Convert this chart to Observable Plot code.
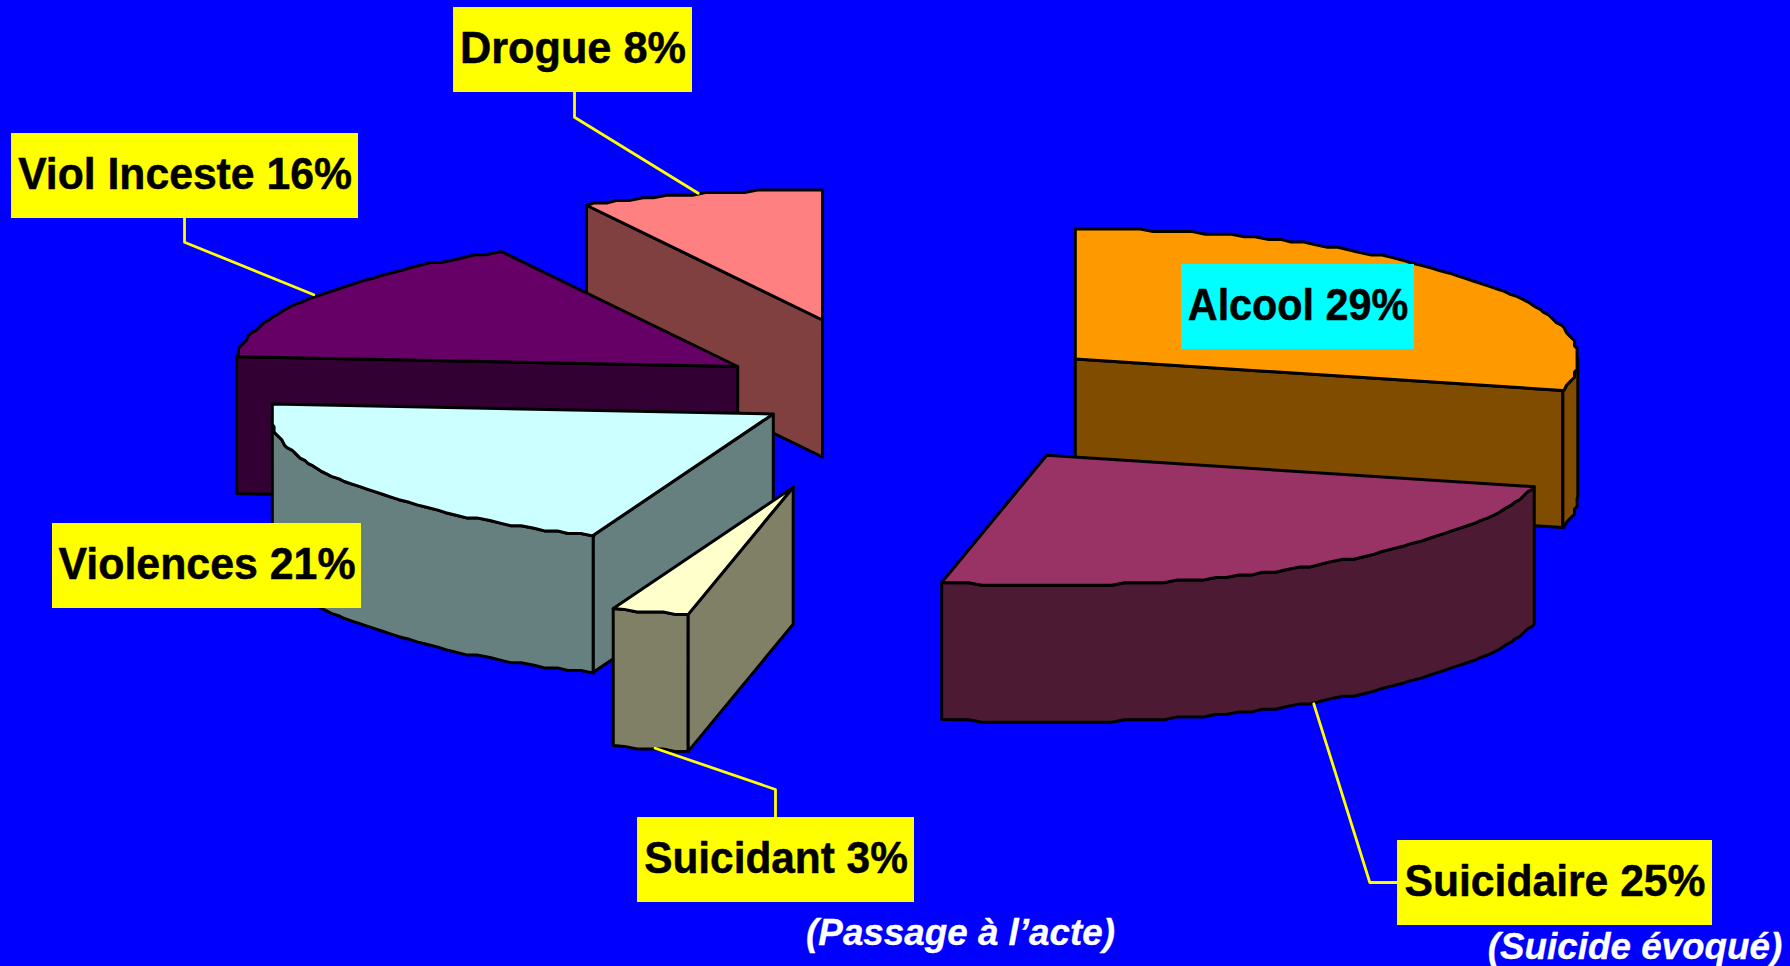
<!DOCTYPE html>
<html lang="fr">
<head>
<meta charset="utf-8">
<title>Passage à l'acte / Suicide évoqué</title>
<script src="https://cdn.jsdelivr.net/npm/d3@7"></script>
<script src="https://cdn.jsdelivr.net/npm/@observablehq/plot@0.6"></script>
<style>
  html, body { margin: 0; padding: 0; background: #0000FF; overflow: hidden; }
  svg { display: block; }
</style>
</head>
<body>
<div id="chart"></div>
<script>
// ---- data ----
const categories = ["Alcool", "Suicidaire", "Suicidant", "Violences", "Viol Inceste", "Drogue"];
const labelValues = [29, 25, 3, 21, 16, 8];          // printed percentages
const shares = [28.89, 24.46, 2.48, 20.39, 16.0, 7.78]; // measured slice sizes
const topColors = ["#FF9900", "#993366", "#FFFFCC", "#CCFFFF", "#660066", "#FF8080"];
const sideColors = ["#804D00", "#4D1A33", "#808066", "#668080", "#330033", "#804040"];

// ---- layout of the exploded slices (per slice centre) ----
const centerX = [1074.8, 1046.2, 792.7, 772.8, 737.2, 822];
const centerY = [358.5, 454.8, 486.7, 413.4, 366, 319.5];
const rx = 502.5, ry = 130, depth = 137;
const paintOrder = [5, 4, 3, 2, 0, 1];

// ---- label boxes and callouts ----
const boxLeft = [1181, 1397, 637, 52, 11, 453];
const boxRight = [1414, 1712, 914, 361, 358, 692];
const boxTop = [264, 840, 817, 523, 133, 7];
const boxHeight = 85;
const boxFill = ["#00FFFF", "#FFFF00", "#FFFF00", "#FFFF00", "#FFFF00", "#FFFF00"];
const textWidths = [220.4, 301, 263.6, 297, 333.7, 226];
const leaders = [
  {id: "Suicidaire", xs: [1397, 1369.3, 1313.3], ys: [882, 882, 703.3]},
  {id: "Suicidant", xs: [775, 775, 654.6], ys: [817, 789, 747.7]},
  {id: "Viol", xs: [184, 184, 313.3], ys: [217.7, 241.7, 294.3]},
  {id: "Drogue", xs: [574, 574, 697.7], ys: [92, 116.7, 192.7]}
];
const notes = ["(Passage à l’acte)", "(Suicide évoqué)"];
const noteX = [960, 1634.5];
const noteY = [944.5, 958];

// ---- geometry ----
const rad = d => d * Math.PI / 180;
const total = d3.sum(shares);
const ends = d3.cumsum(shares).map(v => v / total * 360);
const grid = 2.6;   // the source was a coarse bitmap: the arc snaps to this pixel grid
const step = 1.5;
const snap = v => Math.round(v / grid) * grid;
const pt = a => [rx * Math.sin(rad(a)), -ry * Math.cos(rad(a))];
const leftLimit = -501;  // the left rim never passes the slice's corner

function arc(a0, a1) {
  const out = [pt(a0)];
  const first = (Math.floor(a0 / step) + 1) * step;
  for (let a = first; a < a1 - 0.4; a += step) {
    const [x, y] = pt(a);
    out.push([Math.max(snap(x), leftLimit), snap(y)]);
  }
  out.push(pt(a1));
  return out;
}
function wallVisible(a, interior) {
  if (Math.abs(Math.sin(rad(a))) < 1e-6) return false;
  const [dx, dy] = pt(a), [px, py] = pt(interior);
  return py < dy / dx * px;
}

const faces = [];
function addFace(id, pts, fill, cx, cy) {
  pts.forEach(([x, y]) => faces.push({id, x: cx + x, y: cy + y, fill}));
}
paintOrder.forEach(i => {
  const a0 = i ? ends[i - 1] : 0, a1 = ends[i];
  const cx = centerX[i], cy = centerY[i];
  const top = topColors[i], side = sideColors[i];
  const radial = a => {
    const [x, y] = pt(a);
    return [[0, 0], [x, y], [x, y + depth], [0, depth]];
  };
  if (wallVisible(a1, a1 - 3)) addFace(`${i}-end`, radial(a1), side, cx, cy);
  const lo = Math.max(a0, 90), hi = Math.min(a1, 270);
  if (lo < hi) {
    const rim = arc(lo, hi).map(([x, y]) => [Math.max(x, leftLimit), y]);
    const lower = rim.map(([x, y]) => [x, y + depth]).reverse();
    addFace(`${i}-rim`, rim.concat(lower), side, cx, cy);
  }
  if (wallVisible(a0, a0 + 3)) addFace(`${i}-start`, radial(a0), side, cx, cy);
  addFace(`${i}-top`, [[0, 0], ...arc(a0, a1)], top, cx, cy);
});

const boxes = categories.map((c, i) => ({
  label: `${c} ${labelValues[i]}%`,
  x1: boxLeft[i], x2: boxRight[i], y1: boxTop[i], y2: boxTop[i] + boxHeight,
  fill: boxFill[i],
  tx: (boxLeft[i] + boxRight[i]) / 2,
  ty: boxTop[i] + 55
}));
const leaderRows = leaders.flatMap(l => l.xs.map((x, j) => ({id: l.id, x, y: l.ys[j]})));
const noteRows = notes.map((t, i) => ({t, x: noteX[i], y: noteY[i]}));

const font = "'Liberation Sans', Arial, sans-serif";
const chart = Plot.plot({
  width: 1790,
  height: 966,
  margin: 0,
  style: {background: "#0000FF", fontFamily: font},
  x: {domain: [0, 1790], range: [0, 1790], axis: null},
  y: {domain: [0, 966], range: [0, 966], axis: null},
  color: {type: "identity"},
  marks: [
    Plot.line(faces, {
      x: "x", y: "y", z: "id", fill: "fill",
      stroke: "#000", strokeWidth: 3, strokeLinejoin: "round",
      curve: "linear-closed"
    }),
    Plot.line(leaderRows, {x: "x", y: "y", z: "id", stroke: "#FFFF00", strokeWidth: 2.8}),
    Plot.rect(boxes, {x1: "x1", x2: "x2", y1: "y1", y2: "y2", fill: "fill"}),
    Plot.text(boxes, {
      x: "tx", y: "ty", text: "label", textAnchor: "middle", lineAnchor: "bottom",
      fontSize: 44.5, fontWeight: 700, fontFamily: font, fill: "#000",
      stroke: "#000", strokeWidth: 0.5
    }),
    Plot.text(noteRows, {
      x: "x", y: "y", text: "t", textAnchor: "middle", lineAnchor: "bottom",
      fontSize: 36.8, fontWeight: 700, fontStyle: "italic", fontFamily: font, fill: "#FFF",
      stroke: "#FFF", strokeWidth: 0.3
    })
  ]
});
// the reference's labels are slightly condensed: fit each to its measured width
const labelTexts = chart.querySelectorAll('g[aria-label="text"]')[0].querySelectorAll("text");
labelTexts.forEach((el, i) => {
  el.setAttribute("textLength", textWidths[i]);
  el.setAttribute("lengthAdjust", "spacingAndGlyphs");
});
document.getElementById("chart").appendChild(chart);
</script>
</body>
</html>
